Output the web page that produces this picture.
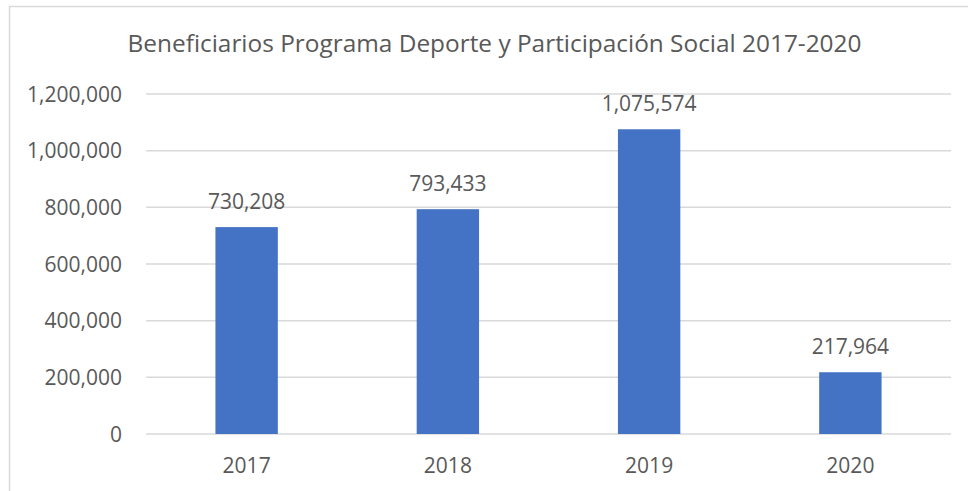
<!DOCTYPE html>
<html>
<head>
<meta charset="utf-8">
<script src="https://cdn.jsdelivr.net/npm/d3@7"></script>
<style>
  html, body { margin: 0; padding: 0; background: #fff; overflow: hidden; }
  text { font-family: "Open Sans", sans-serif; fill: #595959; }
</style>
</head>
<body>
<div id="viz"></div>
<script>
const years = ['2017', '2018', '2019', '2020'];
const beneficiarios = [730208, 793433, 1075574, 217964];
const yTicks = [0, 200000, 400000, 600000, 800000, 1000000, 1200000];
const title = 'Beneficiarios Programa Deporte y Participación Social 2017-2020';

const width = 968;
const height = 491;
const margin = { top: 94, right: 17, bottom: 57, left: 146 };

const svg = d3
  .select('#viz')
  .append('svg')
  .attr('width', width)
  .attr('height', height);

// chart frame (only top/left visible in the crop)
svg
  .append('rect')
  .attr('x', 9.5)
  .attr('y', 6.5)
  .attr('width', width + 20)
  .attr('height', height + 20)
  .attr('fill', 'none')
  .attr('stroke', '#d9d9d9')
  .attr('stroke-width', 1.5);

const x = d3
  .scaleBand()
  .domain(years)
  .range([margin.left, width - margin.right])
  .paddingInner(0.69)
  .paddingOuter(0.345);

const y = d3
  .scaleLinear()
  .domain([0, 1200000])
  .range([height - margin.bottom, margin.top]);

const fmt = d3.format(',');

// gridlines
svg
  .append('g')
  .selectAll('line')
  .data(yTicks)
  .enter()
  .append('line')
  .attr('x1', margin.left)
  .attr('x2', width - margin.right)
  .attr('y1', d => y(d))
  .attr('y2', d => y(d))
  .attr('stroke', '#d9d9d9')
  .attr('stroke-width', 1.5);

// y tick labels
svg
  .append('g')
  .selectAll('text')
  .data(yTicks)
  .enter()
  .append('text')
  .attr('x', 122)
  .attr('y', d => y(d) + 7.5)
  .attr('text-anchor', 'end')
  .style('font-size', '21px')
  .text(d => fmt(d));

// bars
svg
  .append('g')
  .selectAll('rect')
  .data(beneficiarios)
  .enter()
  .append('rect')
  .attr('x', (d, i) => x(years[i]))
  .attr('y', d => y(d))
  .attr('width', x.bandwidth())
  .attr('height', d => y(0) - y(d))
  .attr('fill', '#4472c4');

// value labels
svg
  .append('g')
  .selectAll('text')
  .data(beneficiarios)
  .enter()
  .append('text')
  .attr('x', (d, i) => x(years[i]) + x.bandwidth() / 2)
  .attr('y', d => y(d) - 18.5)
  .attr('text-anchor', 'middle')
  .style('font-size', '21px')
  .text(d => fmt(d));

// x labels
svg
  .append('g')
  .selectAll('text')
  .data(years)
  .enter()
  .append('text')
  .attr('x', d => x(d) + x.bandwidth() / 2)
  .attr('y', 472.5)
  .attr('text-anchor', 'middle')
  .style('font-size', '21px')
  .text(d => d);

// title
svg
  .append('text')
  .attr('x', 494.5)
  .attr('y', 52)
  .attr('text-anchor', 'middle')
  .style('font-size', '24.4px')
  .text(title);
</script>
</body>
</html>
